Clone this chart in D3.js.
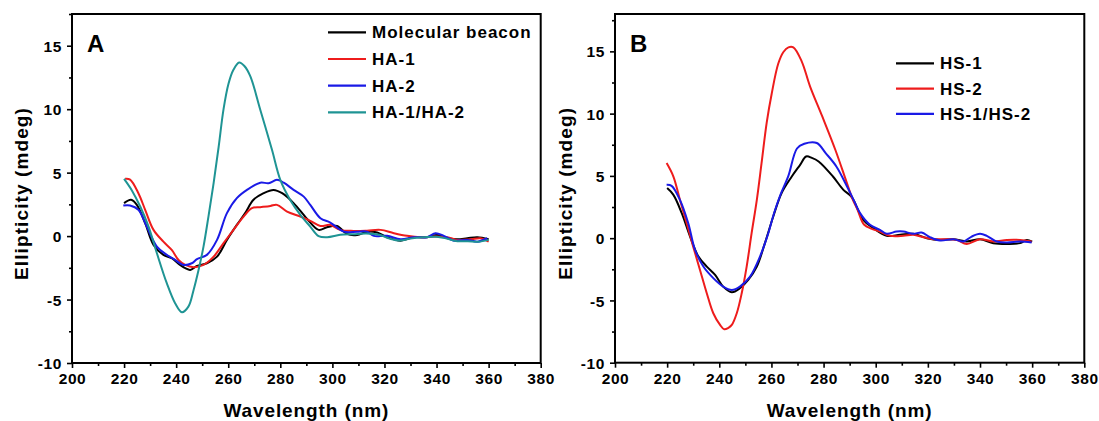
<!DOCTYPE html>
<html>
<head>
<meta charset="utf-8">
<script src="https://cdn.jsdelivr.net/npm/d3@7"></script>
<style>
  html, body { margin: 0; padding: 0; background: #fff; }
  svg { display: block; }
  text { font-family: "Liberation Sans", Arial, sans-serif; font-weight: bold; fill: #000; }
</style>
</head>
<body>
<svg id="chart" width="1099" height="421"></svg>
<script>
// ---------- Data (wavelength nm, ellipticity mdeg) ----------
const xTicks = [200, 220, 240, 260, 280, 300, 320, 340, 360, 380];
const yTicks = [-10, -5, 0, 5, 10, 15];

// Panel A
const molecularBeacon = [
  [220, 2.6], [222.7, 2.86], [224.9, 2.46], [228.1, 1.02], [231.3, -0.69], [235.1, -1.48],
  [238.3, -1.74], [241.5, -2.27], [243.5, -2.53], [245.4, -2.67], [248, -2.35], [251.8, -2.14],
  [255.7, -1.62], [259.5, -0.3], [263.3, 0.88], [266.5, 1.81], [269.7, 2.86], [273.6, 3.38],
  [277.4, 3.64], [280.7, 3.38], [285.1, 2.6], [290.3, 1.35], [294.7, 0.49], [297.9, 0.7],
  [301.8, 0.8], [305.6, 0.17], [309.5, 0.09], [313.3, 0.35], [317.2, 0.28], [321, -0.09],
  [326.2, -0.36], [331.3, -0.09], [336.4, -0.09], [340.3, 0.09], [344.1, -0.17], [348, -0.25],
  [351.8, -0.17], [355.7, -0.09], [360, -0.25]
];
const ha1 = [
  [220.4, 4.51], [222.3, 4.45], [225.5, 3.38], [228.1, 2.07], [231.3, 0.49], [235.1, -0.44],
  [238.3, -1.09], [240.9, -1.88], [243.5, -2.27], [246.7, -2.45], [250.5, -2.27], [254.4, -1.62],
  [258.2, -0.56], [262, 0.49], [265.9, 1.54], [269.1, 2.2], [272.3, 2.28], [276.2, 2.38],
  [278.7, 2.46], [282.6, 1.93], [287.7, 1.54], [291.5, 1.2], [295.4, 0.8], [299.2, 0.88],
  [303, 0.49], [308.2, 0.41], [313.3, 0.43], [318.5, 0.49], [323.6, 0.23], [328.7, 0.02],
  [333.8, -0.09], [339, -0.04], [344.1, -0.09], [348, -0.3], [353.1, -0.25], [356.9, -0.17],
  [360, -0.44]
];
const ha2 = [
  [219.7, 2.41], [222.3, 2.41], [225.5, 2.07], [228.7, 0.75], [232.6, -0.83], [236.4, -1.48],
  [239.6, -1.88], [242.8, -2.27], [246, -2.14], [248, -1.82], [251.8, -1.48], [255.7, -0.3],
  [259.5, 1.81], [263.3, 2.99], [267.2, 3.64], [272.3, 4.21], [275.5, 4.17], [278.7, 4.43],
  [281.3, 4.21], [285.1, 3.64], [289, 3.11], [291.5, 2.46], [295.4, 1.41], [299.2, 1.07],
  [304.4, 0.35], [309.5, 0.35], [313.3, 0.35], [315.9, 0.02], [321, 0.02], [326.2, -0.25],
  [331.3, -0.09], [336.4, -0.09], [339.6, 0.23], [342.8, 0.02], [346.7, -0.36], [351.8, -0.3],
  [355.7, -0.44], [359.5, -0.17]
];
const ha1ha2 = [
  [220, 4.51], [223, 3.6], [226.2, 2.33], [229.4, 0.75], [232.6, -1.35], [236.4, -3.71],
  [239.6, -5.29], [242.2, -6.0], [244.7, -5.56], [246.7, -4.24], [248.6, -2.67], [250.5, -0.83],
  [252.4, 1.54], [254.4, 4.2], [256.3, 7.0], [258.2, 10.0], [260.1, 12.0], [262, 13.1],
  [264.2, 13.68], [266.2, 13.4], [268.5, 12.58], [272.3, 9.95], [276.8, 6.8], [280, 4.43],
  [283.8, 2.85], [287.7, 1.67], [291.5, 0.75], [294.7, 0.0], [298, -0.09], [303, 0.1],
  [308, 0.15], [313, 0.2], [318, 0.1], [322, -0.2], [326, -0.35], [330, -0.2], [335, -0.1],
  [340, -0.05], [344, -0.2], [348, -0.4], [352, -0.4], [356, -0.45], [360, -0.3]
];

// Panel B
const hs1 = [
  [220, 4.02], [222.4, 3.48], [225.6, 2.01], [228.8, 0.13], [232, -1.48], [235.2, -2.28],
  [238.4, -2.95], [241.5, -3.89], [244.8, -4.34], [247.9, -4.02], [251.1, -3.35], [254.4, -2.28],
  [257.5, -0.4], [260.7, 1.74], [263.9, 3.62], [267.8, 4.95], [271, 5.89], [273.3, 6.56],
  [275.5, 6.45], [278.1, 6.16], [283.6, 4.95], [287.6, 3.88], [290.8, 3.3], [295.2, 1.47],
  [299.1, 0.8], [304.2, 0.19], [309.3, 0.27], [314.4, 0.35], [319.6, 0], [324.7, -0.14],
  [329.8, -0.08], [334.9, -0.27], [340, -0.08], [345.1, -0.4], [350.3, -0.46], [355.4, -0.4],
  [357.9, -0.14], [360, -0.27]
];
const hs2 = [
  [219.8, 6.03], [222.4, 4.95], [224.9, 3.08], [227.5, 1.2], [230, -0.68], [232.6, -2.55],
  [235.2, -4.42], [237.7, -6.03], [240.3, -6.97], [241.9, -7.32], [243.5, -7.2], [244.8, -6.97],
  [246.7, -6.03], [248.6, -4.42], [250.5, -2.28], [252.4, 0.4], [254.4, 3.08], [256.2, 6.0],
  [258.2, 9.3], [260.1, 11.6], [262.6, 14.0], [264.6, 14.95], [266.5, 15.32], [268.4, 15.32],
  [271.6, 14.2], [274.8, 12.19], [279.5, 9.77], [284.5, 7.1], [288.5, 4.7], [291, 3.2],
  [293, 2.3], [295.5, 1.1], [298.5, 0.75], [301.6, 0.53], [305.5, 0.19], [310.6, 0.19],
  [314.4, 0.27], [318.3, 0.08], [322.1, -0.08], [327.2, -0.08], [331.1, -0.14], [334.9, -0.46],
  [340, -0.08], [345.1, -0.27], [350.3, -0.14], [355.4, -0.14], [359.8, -0.27]
];
const hs1hs2 = [
  [219.8, 4.28], [221.7, 4.2], [224.9, 3.08], [228.1, 1.2], [230.7, -0.94], [233.9, -2.28],
  [237.7, -3.21], [241.5, -3.89], [244.8, -4.16], [247.9, -3.89], [251.8, -3.09], [255.6, -1.48],
  [258.5, 0.2], [261, 2.0], [263.3, 3.4], [266.5, 5.0], [269.8, 7.2], [272.6, 7.58],
  [277.4, 7.64], [280.8, 6.83], [284.9, 5.76], [289, 4.15], [291, 3.3], [294, 2.01],
  [297.8, 1.07], [301.6, 0.67], [304.2, 0.35], [308, 0.53], [310.6, 0.53], [314.4, 0.35],
  [317.6, 0.45], [320.8, 0.08], [324.7, -0.19], [329.8, -0.08], [333.6, -0.27], [336.8, 0.13],
  [340, 0.35], [342.6, 0.19], [346.4, -0.27], [350.3, -0.35], [355.4, -0.27], [359.8, -0.35]
];

const namesA = ["Molecular beacon", "HA-1", "HA-2", "HA-1/HA-2"];
const namesB = ["HS-1", "HS-2", "HS-1/HS-2"];
const colorsA = ["#000000", "#ee1c1c", "#1a1ae6", "#1f9494"];
const colorsB = ["#000000", "#ee1c1c", "#1a1ae6"];

// ---------- Drawing ----------
const svg = d3.select("#chart");
const fmt = d => String(d);   // plain hyphen-minus like the original

function drawPanel(cfg) {
  const x = d3.scaleLinear().domain([200, 380]).range([cfg.left, cfg.right]);
  const y = d3.scaleLinear().domain([-10, cfg.ymax]).range([cfg.bottom, cfg.top]);
  const g = svg.append("g");

  // series
  const line = d3.line().x(d => x(d[0])).y(d => y(d[1])).curve(d3.curveCatmullRom.alpha(0.5));
  cfg.series.forEach((s, i) => {
    g.append("path").attr("d", line(s)).attr("fill", "none")
      .attr("stroke", cfg.colors[i]).attr("stroke-width", 2).attr("stroke-linejoin", "round");
  });

  // x axis
  const xAxis = d3.axisBottom(x).tickValues(xTicks).tickSize(5).tickPadding(4).tickFormat(fmt);
  const xMinor = d3.axisBottom(x).tickValues(d3.range(210, 380, 20)).tickSize(3).tickFormat("");
  const gx = g.append("g").attr("transform", `translate(0,${cfg.bottom})`).call(xAxis);
  g.append("g").attr("transform", `translate(0,${cfg.bottom})`).call(xMinor);
  // y axis
  const yAxis = d3.axisLeft(y).tickValues(yTicks).tickSize(5).tickPadding(5).tickFormat(fmt);
  const yMinor = d3.axisLeft(y).tickValues([-7.5, -2.5, 2.5, 7.5, 12.5, 17.5].filter(v => v <= cfg.ymax)).tickSize(3).tickFormat("");
  const gy = g.append("g").attr("transform", `translate(${cfg.left},0)`).call(yAxis);
  g.append("g").attr("transform", `translate(${cfg.left},0)`).call(yMinor);

  g.selectAll(".domain").remove();
  g.selectAll(".tick line").attr("stroke", "#000").attr("stroke-width", 1.6);
  g.selectAll(".tick text").attr("font-size", 15.5).attr("font-family", "'Liberation Sans', Arial, sans-serif")
    .attr("font-weight", "bold").attr("fill", "#000").style("letter-spacing", "0.6px");
  gx.selectAll(".tick text").attr("dy", "0.78em");
  gy.selectAll(".tick text").attr("dy", "0.36em");

  // frame
  g.append("rect").attr("x", cfg.left).attr("y", cfg.top)
    .attr("width", cfg.right - cfg.left).attr("height", cfg.bottom - cfg.top)
    .attr("fill", "none").attr("stroke", "#000").attr("stroke-width", 2);

  // titles
  g.append("text").attr("x", (cfg.left + cfg.right) / 2).attr("y", 416.5)
    .attr("text-anchor", "middle").attr("font-size", 19).style("letter-spacing", "0.9px")
    .text("Wavelength (nm)");
  g.append("text").attr("transform", `translate(${cfg.ytitleX},${(cfg.top + cfg.bottom) / 2 + 5}) rotate(-90)`)
    .attr("text-anchor", "middle").attr("font-size", 19).style("letter-spacing", "1.1px")
    .text("Ellipticity (mdeg)");

  // panel letter
  g.append("text").attr("x", cfg.left + 15).attr("y", 51.7).attr("font-size", 24).text(cfg.letter);

  // legend
  cfg.names.forEach((n, i) => {
    const cy = cfg.legY + i * cfg.legStep;
    g.append("line").attr("x1", cfg.legX).attr("x2", cfg.legX + 38).attr("y1", cy).attr("y2", cy)
      .attr("stroke", cfg.colors[i]).attr("stroke-width", 2.2);
    g.append("text").attr("x", cfg.legX + 44).attr("y", cy + 6).attr("font-size", 17)
      .style("letter-spacing", "1px").text(n);
  });
}

drawPanel({
  left: 72, right: 540.7, top: 14, bottom: 363, ymax: 17.5,
  series: [molecularBeacon, ha1, ha2, ha1ha2], colors: colorsA, names: namesA,
  letter: "A", ytitleX: 28, legX: 328, legY: 32.3, legStep: 26.7
});
drawPanel({
  left: 615, right: 1084.3, top: 14, bottom: 362.7, ymax: 18,
  series: [hs1, hs2, hs1hs2], colors: colorsB, names: namesB,
  letter: "B", ytitleX: 571.5, legX: 896, legY: 63.3, legStep: 25.3
});
</script>
</body>
</html>
